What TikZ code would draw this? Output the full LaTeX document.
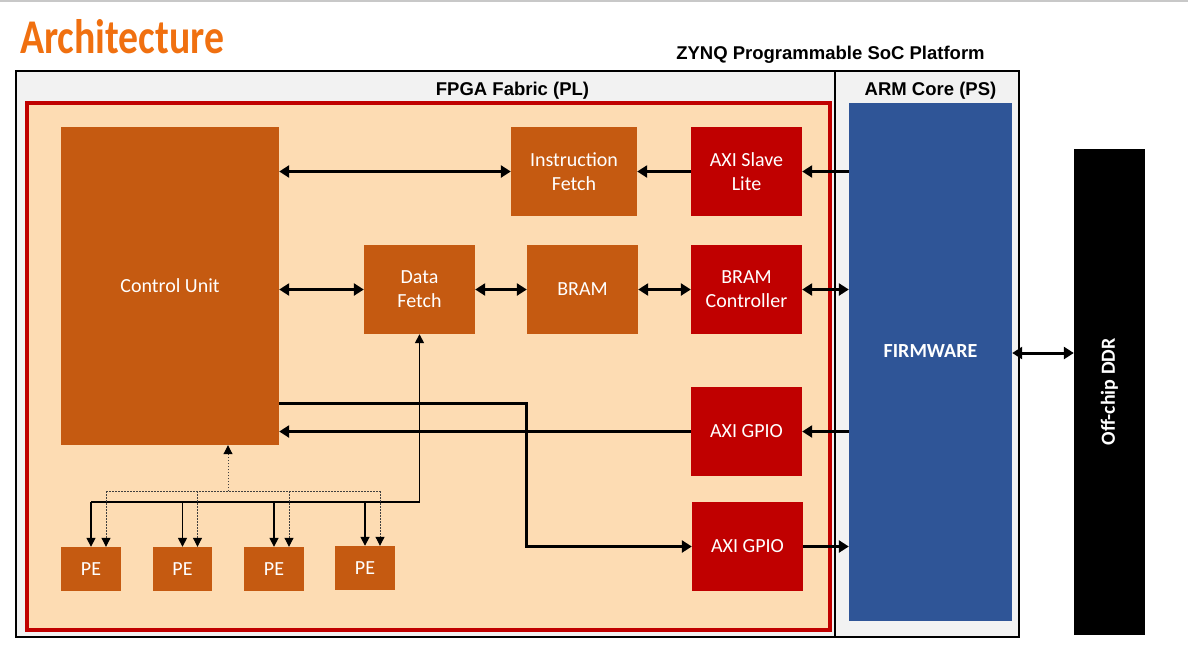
\documentclass[tikz,border=0pt]{standalone}
\usepackage{fontspec}
\usepackage{graphicx}
\usetikzlibrary{arrows.meta}
\newfontfamily\boxfont{Carlito}
\newfontfamily\headfont{Liberation Sans}
\definecolor{titleorange}{HTML}{F07010}
\definecolor{fabric}{HTML}{FDDCB3}
\definecolor{brick}{HTML}{C55A11}
\definecolor{axired}{HTML}{C00000}
\definecolor{psblue}{HTML}{2F5597}
\definecolor{panel}{HTML}{F2F2F2}
\definecolor{rulegray}{HTML}{C8C8C8}
\definecolor{dotgray}{HTML}{404040}

\begin{document}
\begin{tikzpicture}[x=1pt,y=-1pt,
  blk/.style={rectangle, inner sep=0pt, text=white,
    font=\boxfont\fontsize{20}{24}\selectfont, align=center},
  plblock/.style={blk, fill=brick},
  axiblock/.style={blk, fill=axired},
  head/.style={font=\headfont\bfseries\fontsize{18.5}{22}\selectfont,
    inner sep=0pt, anchor=base},
  onearrow/.style={line width=3pt, -{Triangle[length=10pt,width=12pt]}},
  biarrow/.style={line width=3pt,
    {Triangle[length=10pt,width=12pt]}-{Triangle[length=10pt,width=12pt]}},
  peline/.style={line width=1.6pt},
  pearrow/.style={line width=1.6pt, -{Triangle[length=9pt,width=9pt]}},
  dotline/.style={line width=1pt, dash pattern=on 1.5pt off 1.5pt, dotgray},
  dotarrow/.style={line width=1pt, dash pattern=on 1.5pt off 1.5pt, dotgray,
    -{Triangle[length=9pt,width=9pt,color=black]}},
]
\useasboundingbox (0,0) rectangle (1188,665);

% top rule and heading
\draw[rulegray, line width=1.5pt] (0,0.75) -- (1188,0.75);
\node[anchor=base west, inner sep=0pt, text=titleorange] (title) at (20,53)
  {\resizebox{204pt}{34pt}{\boxfont\bfseries Architecture}};
\node[head] (zynqlabel) at (830.5,59) {ZYNQ Programmable SoC Platform};

% SoC container and its two halves
\node[draw=black, line width=2pt, fill=panel, inner sep=0pt,
  minimum width=1003pt, minimum height=566pt] (zynq) at (517.5,354) {};
\coordinate (divx) at (835,0);
\draw[line width=1.5pt] (zynq.north -| divx) -- (zynq.south -| divx);
\node[draw=axired, line width=4pt, fill=fabric, inner sep=0pt,
  minimum width=803pt, minimum height=527pt] (pl) at (428.5,366.5) {};
\node[head] (pllabel) at (512.5,95) {FPGA Fabric (PL)};
\node[head] (pslabel) at (930.5,95) {ARM Core (PS)};

% processing system and external memory
\node[fill=psblue, inner sep=0pt, minimum width=163pt, minimum height=518pt]
  (fw) at (930.5,362) {};
\node[text=white, font=\boxfont\bfseries\fontsize{20}{24}\selectfont]
  (fwlabel) at (930.5,351) {FIRMWARE};
\node[fill=black, inner sep=0pt, minimum width=71pt, minimum height=486pt]
  (ddr) at (1109.5,392) {};
\node[rotate=90, text=white, font=\boxfont\bfseries\fontsize{20}{24}\selectfont]
  (ddrlabel) at (ddr.center) {Off-chip DDR};

% programmable logic blocks
\node[plblock, minimum width=218pt, minimum height=318pt] (cu) at (170,286) {Control Unit};
\node[plblock, minimum width=126pt, minimum height=89pt] (ifetch) at (574,171.5) {Instruction\\Fetch};
\node[axiblock, minimum width=111pt, minimum height=89pt] (axs) at (746.5,171.5) {AXI Slave\\Lite};
\node[plblock, minimum width=111pt, minimum height=89pt] (df) at (419.5,289.5) {Data\\Fetch};
\node[plblock, minimum width=111pt, minimum height=89pt] (bram) at (582.5,289.5) {BRAM};
\node[axiblock, minimum width=111pt, minimum height=89pt] (bramc) at (746.5,289.5) {BRAM\\Controller};
\node[axiblock, minimum width=111pt, minimum height=89pt] (gpioa) at (746.5,431.5) {AXI GPIO};
\node[axiblock, minimum width=111pt, minimum height=89pt] (gpiob) at (747.5,546.5) {AXI GPIO};
\node[plblock, minimum width=60pt, minimum height=44pt] (pe1) at (91,569) {PE};
\node[plblock, minimum width=59pt, minimum height=44pt] (pe2) at (182.5,569) {PE};
\node[plblock, minimum width=60pt, minimum height=44pt] (pe3) at (274,569) {PE};
\node[plblock, minimum width=60pt, minimum height=44pt] (pe4) at (365,568) {PE};

% main data paths
\draw[biarrow] (cu.east |- ifetch.west) -- (ifetch.west);
\draw[onearrow] (axs.west) -- (ifetch.east);
\draw[onearrow] (fw.west |- axs.east) -- (axs.east);
\draw[biarrow] (cu.east |- df.west) -- (df.west);
\draw[biarrow] (df.east) -- (bram.west);
\draw[biarrow] (bram.east) -- (bramc.west);
\draw[biarrow] (bramc.east) -- (fw.west |- bramc.east);
\coordinate (ddrlink) at (0,353);
\draw[biarrow] (fw.east |- ddrlink) -- (ddr.west |- ddrlink);
\draw[onearrow] (fw.west |- gpioa.east) -- (gpioa.east);
\draw[onearrow] (gpioa.west) -- (cu.east |- gpioa.west);
\coordinate (turn) at (526,403);
\draw[onearrow, line join=miter] (cu.east |- turn) -- (turn) |- (gpiob.west);
\draw[onearrow] (gpiob.east) -- (fw.west |- gpiob.east);

% PE data bus from Data Fetch
\coordinate (busy) at (0,502);
\draw[pearrow] (df.south |- busy) -- (df.south);
\draw[peline] (df.south |- busy) -- (pe1.north |- busy);
\foreach \p in {pe1,pe2,pe3,pe4}
  \draw[pearrow] (\p.north |- busy) -- (\p.north);

% PE control bus from Control Unit
\coordinate (doty) at (0,491);
\coordinate (dotx) at (228,0);
\draw[dotarrow] (dotx |- doty) -- (dotx |- cu.south);
\foreach \p in {pe1,pe2,pe3,pe4}
  \coordinate (\p d) at ([xshift=15pt]\p.north);
\draw[dotline] (pe1d |- doty) -- (pe4d |- doty);
\foreach \p in {pe1,pe2,pe3,pe4}
  \draw[dotarrow] (\p d |- doty) -- (\p d);
\end{tikzpicture}
\end{document}
